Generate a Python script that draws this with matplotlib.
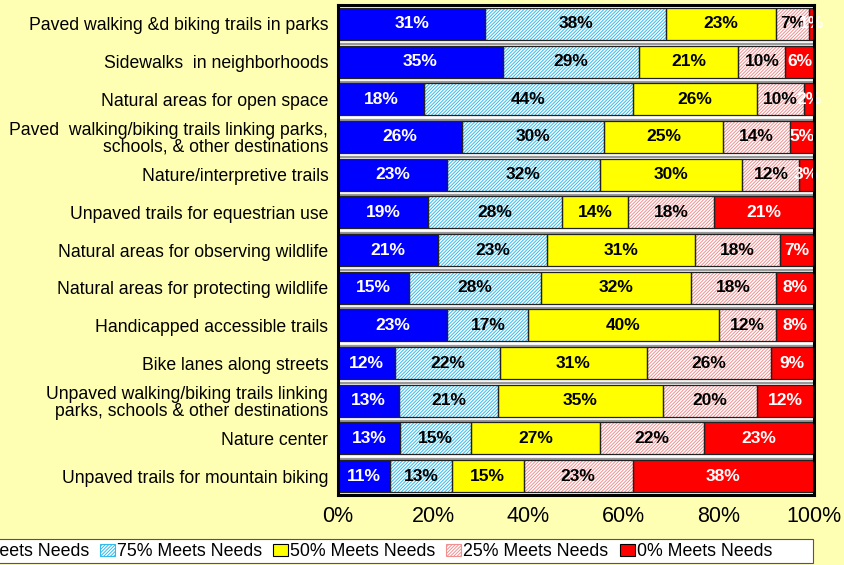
import numpy as np
import matplotlib.pyplot as plt
from matplotlib.patches import Patch, Rectangle

plt.rcParams['font.family'] = ['Liberation Sans', 'DejaVu Sans']
plt.rcParams['hatch.linewidth'] = 0.7

categories = [
    'Paved walking &d biking trails in parks',
    'Sidewalks  in neighborhoods',
    'Natural areas for open space',
    'Paved  walking/biking trails linking parks,\nschools, & other destinations',
    'Nature/interpretive trails',
    'Unpaved trails for equestrian use',
    'Natural areas for observing wildlife',
    'Natural areas for protecting wildlife',
    'Handicapped accessible trails',
    'Bike lanes along streets',
    'Unpaved walking/biking trails linking\nparks, schools & other destinations',
    'Nature center',
    'Unpaved trails for mountain biking',
]
meets_100 = [31, 35, 18, 26, 23, 19, 21, 15, 23, 12, 13, 13, 11]
meets_75 = [38, 29, 44, 30, 32, 28, 23, 28, 17, 22, 21, 15, 13]
meets_50 = [23, 21, 26, 25, 30, 14, 31, 32, 40, 31, 35, 27, 15]
meets_25 = [7, 10, 10, 14, 12, 18, 18, 18, 12, 26, 20, 22, 23]
meets_0 = [1, 6, 2, 5, 3, 21, 7, 8, 8, 9, 12, 23, 38]
series_names = ['100% Meets Needs', '75% Meets Needs', '50% Meets Needs',
                '25% Meets Needs', '0% Meets Needs']

# стиль каждого сегмента: заливка, штриховка, цвет штриховки, цвет подписи
styles = [
    ('#0000FF', None, None, 'white'),
    ('white', '//////////', '#33BBEE', 'black'),
    ('#FFFF00', None, None, 'black'),
    ('white', '//////////', '#F29090', 'black'),
    ('#FF0000', None, None, 'white'),
]

data = np.array([meets_100, meets_75, meets_50, meets_25, meets_0], dtype=float)
shares = data / data.sum(axis=0)

fig = plt.figure(figsize=(8.45, 5.65), dpi=100, facecolor='#FFFFB3')
ax = fig.add_axes([0.400, 0.124, 0.563, 0.867])
ax.set_facecolor('white')

y = np.arange(len(categories))
h = 0.85

# серые полоски в промежутках между столбцами
for gap in y[:-1] + 0.5:
    ax.axhline(gap + 0.04, color='#999999', lw=1.6, zorder=1)

left = np.zeros(len(categories))
for i in range(5):
    face, hatch, hcol, tcol = styles[i]
    if hatch:
        ax.barh(y, shares[i], h, left=left, color=face, hatch=hatch,
                edgecolor=hcol, linewidth=0, zorder=2)
    else:
        ax.barh(y, shares[i], h, left=left, color=face, linewidth=0, zorder=2)
    ax.barh(y, shares[i], h, left=left, fill=False, edgecolor='#222222',
            linewidth=0.9, zorder=3)
    for j in range(len(categories)):
        ax.text(left[j] + shares[i][j] / 2, y[j], f'{int(data[i][j])}%',
                ha='center', va='center', fontsize=12.5, fontweight='bold',
                color=tcol, zorder=4, clip_on=False)
    left += shares[i]

ax.set_xlim(0, 1)
ax.set_ylim(len(categories) - 0.5, -0.5)
ax.set_yticks(y)
ax.set_yticklabels(categories, fontsize=12.7, linespacing=1.0)
ax.set_xticks(np.linspace(0, 1, 6))
ax.set_xticklabels([f'{v}%' for v in range(0, 101, 20)], fontsize=15.5)
ax.tick_params(axis='y', length=0, pad=7)
ax.tick_params(axis='x', length=0, pad=8)
for s in ax.spines.values():
    s.set_linewidth(2.2)
    s.set_color('black')
    s.set_zorder(5)

# рамка легенды (левый край уходит за пределы картинки)
fig.add_artist(Rectangle((-0.02, 0.004), 0.982, 0.042, transform=fig.transFigure,
                         facecolor='white', edgecolor='#555555', lw=0.8))

handles = []
for i in range(5):
    face, hatch, hcol, tcol = styles[i]
    handles.append(Patch(facecolor=face, hatch=hatch,
                         edgecolor=hcol if hatch else 'black', linewidth=0.8))
leg = fig.legend(handles, series_names, loc='center left', ncol=5,
                 bbox_to_anchor=(-83.5 / 845, 0.0235), fontsize=12.8,
                 frameon=False, borderaxespad=0, borderpad=0,
                 handlelength=0.84, handleheight=0.72, handletextpad=0.12,
                 columnspacing=0.62)

fig.savefig('out.png', dpi=100, facecolor=fig.get_facecolor())
